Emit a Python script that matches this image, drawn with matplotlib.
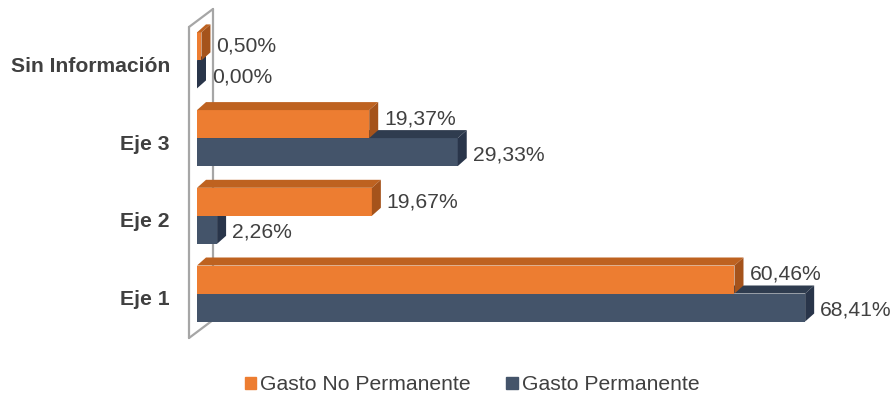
import matplotlib
matplotlib.use("Agg")
import matplotlib.pyplot as plt
from matplotlib.patches import Polygon
import numpy as np

categories = ["Eje 1", "Eje 2", "Eje 3", "Sin Información"]
no_permanente = [60.46, 19.67, 19.37, 0.50]
permanente = [68.41, 2.26, 29.33, 0.00]
series_names = ["Gasto No Permanente", "Gasto Permanente"]

FW, FH, DPI = 893, 400, 100
fig = plt.figure(figsize=(FW / DPI, FH / DPI), dpi=DPI)
plt.rcParams['font.family'] = ['Liberation Sans', 'DejaVu Sans']

# axes geometry (pixels)
x0_px, kx = 197, 8.89          # origin and px per percent
y_bot_px, y_top_px = 345, 5
ky = 77.7                       # px per category
xmin, xmax = 0, 70
ref_px = 293.5                  # pixel of boundary for category 0
ymin = -(y_bot_px - ref_px) / ky
ymax = (ref_px - y_top_px) / ky
ax = fig.add_axes([x0_px / FW, 1 - y_bot_px / FH, (xmax - xmin) * kx / FW,
                   (y_bot_px - y_top_px) / FH])
ax.set_xlim(xmin, xmax)
ax.set_ylim(ymin, ymax)
ax.axis("off")

ddx = 9 / kx
ddy = 8 / ky
h = 28 / ky

orange = "#ED7D31"; orange_top = "#BE6220"; orange_side = "#A5531B"
navy = "#44546A"; navy_top = "#2F3C4F"; navy_side = "#29354A"
txt = "#404040"

# back wall
wall_c = "#A6A6A6"
wx0 = -8 / kx
wyb = -(338 - ref_px) / ky
wyt = (ref_px - 27) / ky
wdx = 24 / kx
wdy = 18 / ky
for (xa, ya, xb, yb) in [(wx0, wyb, wx0, wyt), (wx0 + wdx, wyb + wdy, wx0 + wdx, wyt + wdy),
                         (wx0, wyt, wx0 + wdx, wyt + wdy), (wx0, wyb, wx0 + wdx, wyb + wdy)]:
    ax.plot([xa, xb], [ya, yb], color=wall_c, lw=1.6, clip_on=False, solid_capstyle="round", zorder=1)

ys = np.arange(len(categories))


def draw_3d(vals, bottoms, front, top, side, z):
    ax.barh(bottoms + h / 2, vals, height=h, left=0, color=front, zorder=z, linewidth=0)
    for v, b in zip(vals, bottoms):
        t = b + h
        ax.add_patch(Polygon([(0, t), (v, t), (v + ddx, t + ddy), (ddx, t + ddy)],
                             closed=True, facecolor=top, edgecolor="none", zorder=z, clip_on=False))
        ax.add_patch(Polygon([(v, b), (v + ddx, b + ddy), (v + ddx, t + ddy), (v, t)],
                             closed=True, facecolor=side, edgecolor="none", zorder=z, clip_on=False))


# dark (lower) bars first, orange on top of them
draw_3d(permanente, ys - h, navy, navy_top, navy_side, 2)
draw_3d(no_permanente, ys.astype(float), orange, orange_top, orange_side, 3)

fs = 15.2
for v, d, y in zip(no_permanente, permanente, ys):
    up = 5 if d > v + 1 else 0
    ax.annotate(f"{v:.2f}%".replace(".", ","), xy=(v, y + h / 2), xytext=(15 * 0.72, up * 0.72),
                textcoords="offset points", va="center", ha="left", fontsize=fs, color=txt,
                annotation_clip=False)
for v, y in zip(permanente, ys):
    ax.annotate(f"{v:.2f}%".replace(".", ","), xy=(v, y - h / 2), xytext=(15 * 0.72, -2.5 * 0.72),
                textcoords="offset points", va="center", ha="left", fontsize=fs, color=txt,
                annotation_clip=False)

for c, y in zip(categories, ys):
    ax.text(-27 / kx, y - 6 / ky, c, ha="right", va="center", fontsize=fs,
            fontweight="bold", color=txt)

handles = [plt.Rectangle((0, 0), 1, 1, color=orange), plt.Rectangle((0, 0), 1, 1, color=navy)]
fig.legend(handles, series_names, loc="center", bbox_to_anchor=(472 / FW, 1 - 385 / FH),
           ncol=2, frameon=False, fontsize=fs, handlelength=0.55, handleheight=0.55,
           handletextpad=0.2, columnspacing=1.65, labelcolor=txt)

fig.savefig("out.png", dpi=DPI)
